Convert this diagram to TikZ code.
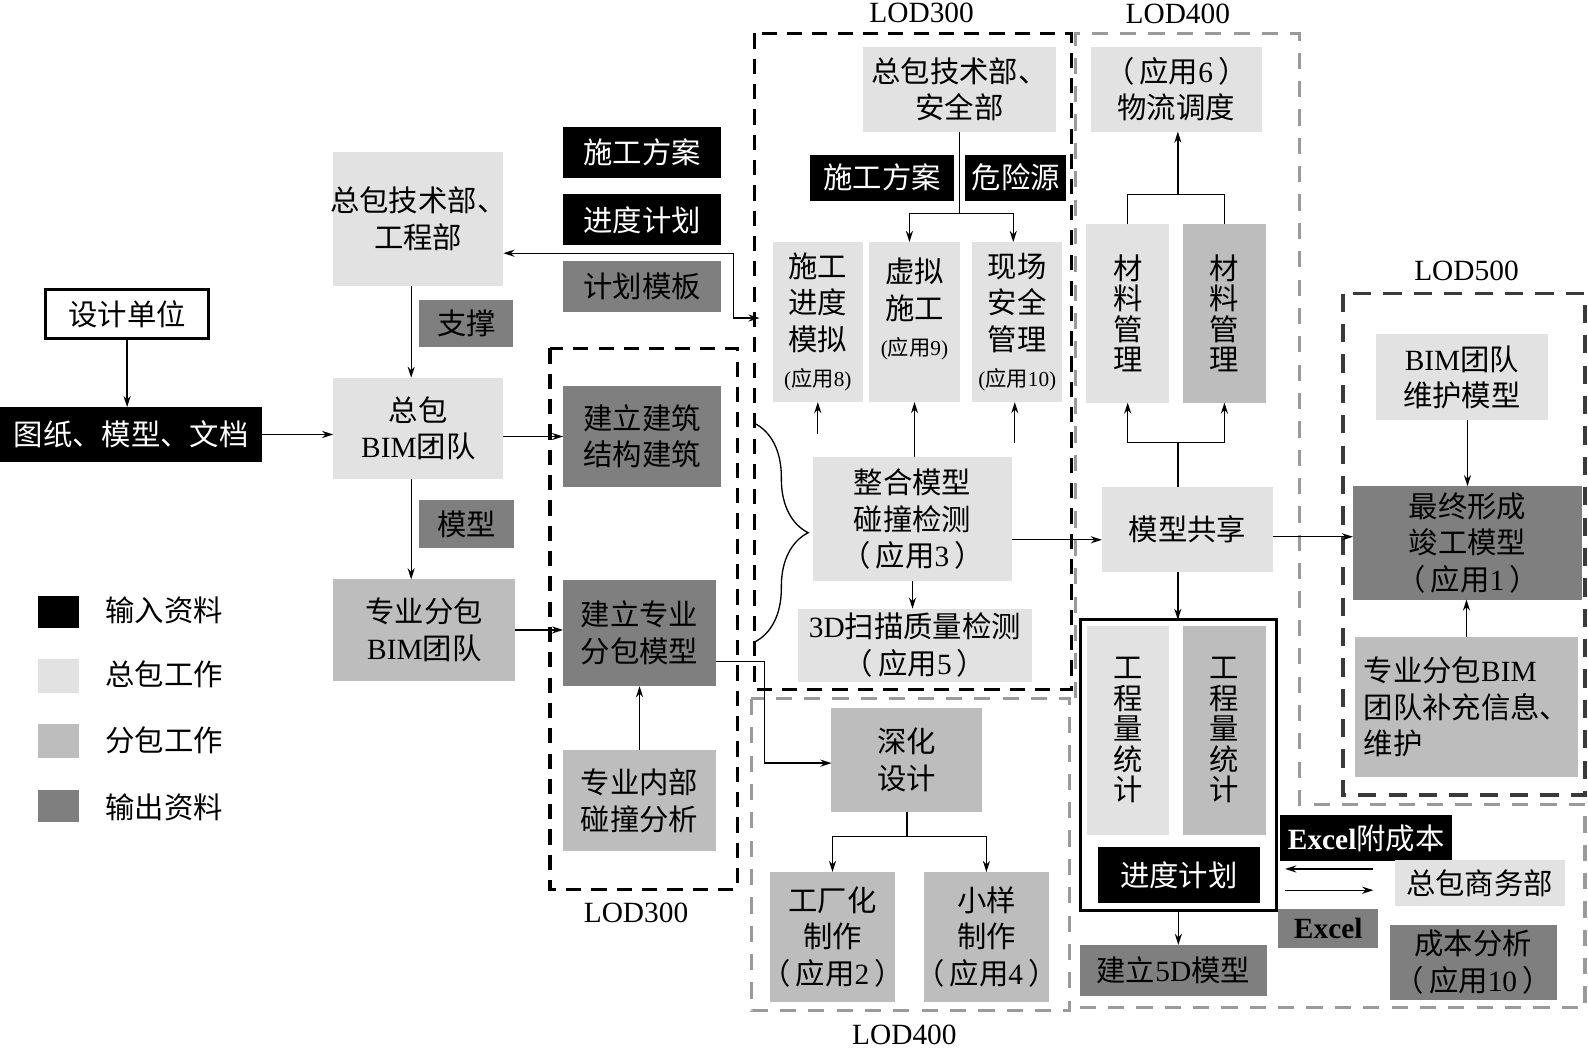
\documentclass[tikz,border=0pt]{standalone}
\usepackage{fontspec}
\setmainfont{Noto Sans CJK SC}
\newfontfamily\lat{Liberation Serif}
\usetikzlibrary{arrows.meta,decorations.pathreplacing,calc}
\definecolor{cLight}{HTML}{E2E2E2}
\definecolor{cMid}{HTML}{BDBDBD}
\definecolor{cDark}{HTML}{7F7F7F}
\definecolor{cGrayDash}{HTML}{9A9A9A}
\definecolor{cDarkDash}{HTML}{3A3A3A}
\newcommand\zh{\fontsize{29}{36}\selectfont}
\newcommand\zs{\fontsize{21}{25}\selectfont}
\newcommand\yy[1]{\makebox[3.4em][c]{（\hspace{5pt}应用{\lat #1}\hspace{5pt}）}}
\newcommand\yys[1]{{\zs{\lat(}应用{\lat #1)}}}
\begin{document}
\begin{tikzpicture}[x=1pt,y=-1pt,
  bx/.style={inner sep=0pt, outer sep=0pt, align=center, font=\zh},
  sz/.style 2 args={minimum width=#1pt, minimum height=#2pt},
  lt/.style={bx, fill=cLight},
  md/.style={bx, fill=cMid},
  dk/.style={bx, fill=cDark},
  bk/.style={bx, fill=black, text=white},
  vt/.style={font=\fontsize{29}{30}\selectfont},
  arr/.style={line width=1.3pt, -{Stealth[length=11pt,width=7pt]}},
  dbl/.style={line width=1.3pt, {Stealth[length=11pt,width=7pt]}-{Stealth[length=11pt,width=7pt]}},
  ln/.style={line width=1.3pt},
  blkdash/.style={line width=3.2pt, dash pattern=on 15pt off 10pt},
  grydash/.style={line width=3pt, draw=cGrayDash, dash pattern=on 16pt off 12pt},
  lodlbl/.style={font=\lat\fontsize{29}{30}\selectfont, inner sep=0pt, anchor=base},
]
\useasboundingbox (0,0) rectangle (1568,1037);

% ---------- legend ----------
\node[bk, sz={40}{32}] (lg1) at (58,604) {};
\node[lt, sz={40}{33}] (lg2) at (58,667.5) {};
\node[md, sz={40}{33}] (lg3) at (58,731.5) {};
\node[dk, sz={40}{32}] (lg4) at (58,796) {};
\node[bx, anchor=west] (lt1) at (104,603) {输入资料};
\node[bx, anchor=west] (lt2) at (104,666) {总包工作};
\node[bx, anchor=west] (lt3) at (104,731) {分包工作};
\node[bx, anchor=west] (lt4) at (104,797) {输出资料};

% ---------- left column ----------
\node[bx, draw=black, line width=3pt, fill=white, sz={161}{49}] (design) at (125.5,310) {设计单位};
\node[bk, sz={259}{54}] (drawings) at (129.5,429) {图纸、模型、文档};
\draw[arr] (design.south) -- (design.south |- drawings.north);

\node[lt, sz={168}{132}] (techeng) at (413,216) {\makebox[5.6em][c]{总包技术部、}\\工程部};
\node[dk, sz={93}{47}] (support) at (460.5,319.5) {支撑};
\node[lt, sz={168}{100}] (bimteam) at (413,423) {总包\\{\lat BIM}团队};
\node[dk, sz={94}{47}] (model) at (461,517.5) {模型};
\node[md, sz={180}{100}] (subteam) at (419,622) {专业分包\\{\lat BIM}团队};
\draw[arr] ([xshift=-7pt]techeng.south) -- ([xshift=-7pt]techeng.south |- bimteam.north);
\draw[arr] ([xshift=-7pt]bimteam.south) -- ([xshift=-7pt]bimteam.south |- subteam.north);
\draw[arr] (drawings.east) -- (drawings.east -| bimteam.west);

% ---------- top labels ----------
\node[bk, sz={156}{51}] (plan1) at (634,150.5) {施工方案};
\node[bk, sz={156}{50}] (sched1) at (634,217) {进度计划};
\node[dk, sz={156}{50}] (tmpl) at (634,283) {计划模板};

% ---------- LOD300 (left) ----------
\draw[blkdash] (543,344) rectangle (728,878);
\node[lodlbl] (lodA) at (628,911) {LOD300};
\node[dk, sz={156}{100}] (buildarch) at (634,431) {建立建筑\\结构建筑};
\node[dk, sz={151}{105}] (buildsub) at (631.5,625) {建立专业\\分包模型};
\node[md, sz={151}{100}] (internal) at (631.5,790.5) {专业内部\\碰撞分析};
\draw[arr] (bimteam.east |- buildarch.west) -- (buildarch.west);
\draw[arr] (subteam.east) -- (subteam.east -| buildsub.west);
\draw[arr] (internal.north) -- (buildsub.south);

% ---------- LOD300 (top middle) ----------
\draw[blkdash] (745,33) rectangle (1058,681);
\node[lodlbl] (lodB) at (910,22) {LOD300};
\node[lt, sz={191}{84}] (techsafe) at (947.5,88) {总包技术部、\\安全部};
\node[bk, sz={142}{45}] (plan2) at (871,175.5) {施工方案};
\node[bk, sz={100}{45}] (hazard) at (1003,175.5) {危险源};
\node[lt, sz={89}{158}] (sim8) at (807.5,318) {施工\\进度\\模拟\\\yys{8}};
\node[lt, sz={90}{158}] (virt9) at (903,318) {虚拟\\施工\\\yys{9}\\[-6pt]\mbox{}};
\node[lt, sz={89}{158}] (safe10) at (1004.5,318) {现场\\安全\\管理\\\yys{10}};
\node[lt, sz={196}{123}] (integ) at (901,512.5) {整合模型\\碰撞检测\\\yy{3}};
\node[lt, sz={231}{72}] (scan) at (903.5,637) {{\lat 3D}扫描质量检测\\\yy{5}};

\coordinate (j1) at (947.5,211);
\draw[ln] (techsafe.south) -- (j1);
\draw[arr] (j1) -| ([xshift=-5pt]virt9.north);
\draw[arr] (j1) -| ([xshift=-4pt]safe10.north);
\coordinate (u8) at (807.5,429);
\coordinate (u10) at (1002,437);
\draw[arr] (u8) -- (sim8.south);
\draw[arr] (virt9.south |- integ.north) -- (virt9.south);
\draw[arr] (u10) -- (u10 |- safe10.south);
\draw[arr] (integ.south) -- (integ.south |- scan.north);
\coordinate (bt) at (745,418);
\coordinate (bb) at (745,634);
\draw[ln, decorate, decoration={brace, amplitude=53pt}] (bt) -- (bb);

% double arrow techeng <-> LOD300
\coordinate (lodin) at (750,314);
\draw[dbl] ([yshift=-34pt]techeng.east) -- ++(227,0) |- (lodin);

% ---------- LOD400 (bottom middle) ----------
\draw[grydash] (742,690) rectangle (1056,998);
\node[lodlbl] (lodC) at (893,1031) {LOD400};
\node[md, sz={149}{102}] (deep) at (895.5,750.5) {深化\\设计};
\node[md, sz={124}{128}] (fac2) at (822,925) {工厂化\\制作\\\yy{2}};
\node[md, sz={124}{128}] (small4) at (974,925) {小样\\制作\\\yy{4}};
\coordinate (j2) at (895.5,826);
\draw[ln] (deep.south) -- (j2);
\draw[arr] (j2) -| (fac2.north);
\draw[arr] (j2) -| (small4.north);
\draw[arr] ([yshift=-28pt]buildsub.east) -- ++(48,0) |- ([yshift=-3pt]deep.west);

% ---------- LOD400 (right) ----------
\draw[grydash] (1062,689) -- (1062,33) -- (1283,33) -- (1283,794) -- (1565,794) -- (1565,995) -- (1056,995);
\node[lodlbl] (lodD) at (1163,23) {LOD400};
\node[lt, sz={169}{84}] (logis) at (1161.5,88) {\yy{6}\\物流调度};
\node[lt, vt, sz={82}{176}] (mat1) at (1113.5,309.5) {材\\料\\管\\理};
\node[md, vt, sz={82}{176}] (mat2) at (1209,309.5) {材\\料\\管\\理};
\coordinate (j3) at (1163,192);
\draw[ln] (mat1.north) |- (j3) -| (mat2.north);
\draw[arr] (j3) -- (j3 |- logis.south);
\node[lt, sz={169}{84}] (share) at (1172.5,523) {模型共享};
\coordinate (j4) at (1163,437);
\draw[ln] (j4 |- share.north) -- (j4);
\draw[arr] (j4) -| (mat1.south);
\draw[arr] (j4) -| (mat2.south);
\coordinate (hy) at (0,533);
\draw[arr] (integ.east |- hy) -- (share.west |- hy);

\node[bx, draw=black, line width=3pt, sz={193}{287}] (frame) at (1163.5,755.5) {};
\node[lt, vt, sz={81}{206}] (eng1) at (1113.5,721) {工\\程\\量\\统\\计};
\node[md, vt, sz={82}{206}] (eng2) at (1209,721) {工\\程\\量\\统\\计};
\node[bk, sz={160}{55}] (sched2) at (1164,864) {进度计划};
\draw[arr] (j4 |- share.south) -- (j4 |- frame.north);
\node[dk, sz={185}{50}] (fived) at (1158.5,958) {建立{\lat 5D}模型};
\draw[arr] (frame.south) -- (frame.south |- fived.north);

% ---------- LOD500 ----------
\draw[line width=3.2pt, draw=cDarkDash, dash pattern=on 18pt off 12pt] (1326,290) rectangle (1565,785);
\node[lodlbl] (lodE) at (1448,277) {LOD500};
\node[lt, sz={169}{85}] (bimmaint) at (1443.5,372.5) {{\lat BIM}团队\\维护模型};
\node[dk, sz={226}{112}] (final) at (1449,536) {最终形成\\竣工模型\\\yy{1}};
\node[md, sz={220}{139}, align=left] (supp) at (1448,698) {专业分包{\lat BIM}\\团队补充信息、\\维护};
\draw[arr] (final.north |- bimmaint.south) -- (final.north);
\draw[arr] (supp.north) -- (supp.north |- final.south);
\coordinate (hy2) at (0,530);
\draw[arr] (share.east |- hy2) -- (final.west |- hy2);

% ---------- cost ----------
\node[bk, sz={170}{45}] (excost) at (1349,827.5) {{\lat\bfseries Excel}附成本};
\node[lt, sz={168}{46}] (biz) at (1461,872) {总包商务部};
\node[dk, sz={99}{38}] (excel) at (1311.5,917) {{\lat\bfseries Excel}};
\node[dk, sz={165}{74}] (cost) at (1454.5,950) {成本分析\\\yy{10}};
\coordinate (ya) at (0,858);
\coordinate (yb) at (0,879);
\draw[arr, shorten <=21pt, shorten >=9pt] (biz.west |- ya) -- (frame.east |- ya);
\draw[arr, shorten <=9pt, shorten >=21pt] (frame.east |- yb) -- (biz.west |- yb);
\end{tikzpicture}
\end{document}
